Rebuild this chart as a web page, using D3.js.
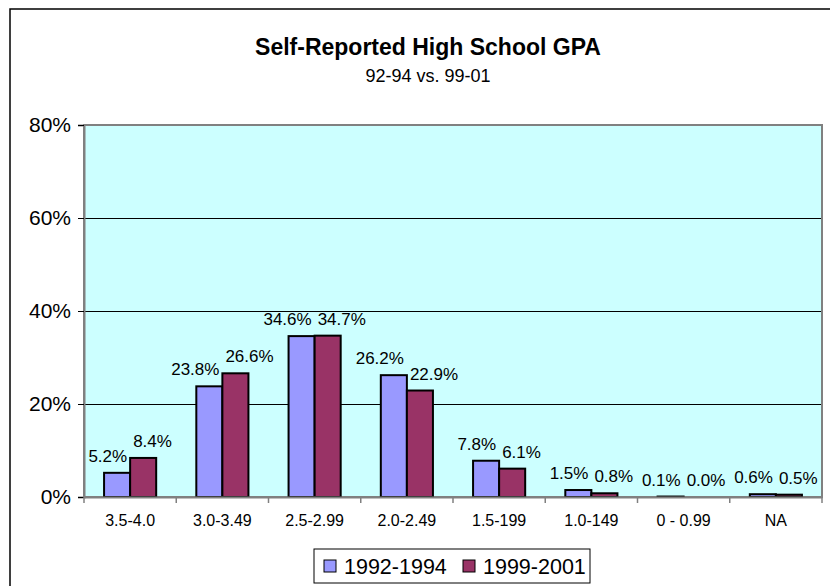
<!DOCTYPE html>
<html>
<head>
<meta charset="utf-8">
<script src="https://cdn.jsdelivr.net/npm/d3@7"></script>
<style>
  body { margin: 0; background: #fff; }
  svg { display: block; font-family: Arial, "Liberation Sans", sans-serif; }
</style>
</head>
<body>
<svg id="chart" width="830" height="586"></svg>
<script>
const categories = ["3.5-4.0", "3.0-3.49", "2.5-2.99", "2.0-2.49", "1.5-199", "1.0-149", "0 - 0.99", "NA"];
const seriesNames = ["1992-1994", "1999-2001"];
const values1992 = [5.2, 23.8, 34.6, 26.2, 7.8, 1.5, 0.1, 0.6];
const values1999 = [8.4, 26.6, 34.7, 22.9, 6.1, 0.8, 0.0, 0.5];
const yTicks = [0, 20, 40, 60, 80];
const colors = ["#9999FF", "#993366"];

const svg = d3.select("#chart");
const W = 830, H = 586;
const plot = { left: 84, right: 822, top: 125, bottom: 497 };

// outer chart border (extends past right/bottom edges)
svg.append("rect").attr("x", 10).attr("y", 9).attr("width", W + 20).attr("height", H + 20)
  .attr("fill", "#fff").attr("stroke", "#000").attr("stroke-width", 1.5);

// titles
const cx = 428;
svg.append("text").attr("x", cx).attr("y", 55).attr("text-anchor", "middle")
  .attr("font-size", 23).attr("font-weight", "bold").text("Self-Reported High School GPA");
svg.append("text").attr("x", cx).attr("y", 82).attr("text-anchor", "middle")
  .attr("font-size", 18).text("92-94 vs. 99-01");

const x = d3.scaleBand().domain(categories).range([plot.left, plot.right]);
const xs = d3.scaleBand().domain(seriesNames).range([0, x.bandwidth()]).paddingInner(0).paddingOuter(0.77);
const y = d3.scaleLinear().domain([0, 80]).range([plot.bottom, plot.top]);

// plot background
svg.append("rect").attr("x", plot.left).attr("y", plot.top)
  .attr("width", plot.right - plot.left).attr("height", plot.bottom - plot.top)
  .attr("fill", "#CCFFFF");

// gridlines
svg.append("g").selectAll("line").data(yTicks.filter(t => t > 0 && t < 80)).join("line")
  .attr("x1", plot.left).attr("x2", plot.right)
  .attr("y1", d => Math.round(y(d)) + 0.5).attr("y2", d => Math.round(y(d)) + 0.5)
  .attr("stroke", "#000").attr("stroke-width", 1);

// plot border
svg.append("rect").attr("x", plot.left).attr("y", plot.top)
  .attr("width", plot.right - plot.left).attr("height", plot.bottom - plot.top)
  .attr("fill", "none").attr("stroke", "#808080").attr("stroke-width", 2);

// bars
const data = categories.map((c, i) => ({ c, vals: [values1992[i], values1999[i]] }));
const groups = svg.append("g").selectAll("g").data(data).join("g")
  .attr("transform", d => `translate(${x(d.c)},0)`);
groups.selectAll("rect").data(d => d.vals.map((v, k) => ({ v, k }))).join("rect")
  .attr("x", d => xs(seriesNames[d.k]))
  .attr("width", xs.bandwidth())
  .attr("y", d => y(d.v))
  .attr("height", d => Math.max(0, y(0) - y(d.v)))
  .attr("fill", d => colors[d.k])
  .attr("stroke", "#000").attr("stroke-width", 2);

// value labels
const fs = 17;
groups.each(function (d) {
  const g = d3.select(this);
  const mid = x.bandwidth() / 2;
  const yb = y(d.vals[0]) - 11;
  const yr = y(d.vals[1]) - 11;
  g.append("text").attr("x", mid - 3).attr("y", yb).attr("text-anchor", "end")
    .attr("font-size", fs).text(d.vals[0].toFixed(1) + "%");
  const separated = (yb - yr) > fs;
  g.append("text")
    .attr("x", separated ? xs(seriesNames[1]) + xs.bandwidth() / 2 : mid + 3)
    .attr("y", yr)
    .attr("text-anchor", separated ? "middle" : "start")
    .attr("font-size", fs).text(d.vals[1].toFixed(1) + "%");
});

// y axis
const yAxis = svg.append("g").attr("transform", `translate(${plot.left},0)`)
  .call(d3.axisLeft(y).tickValues(yTicks).tickFormat(d => d + "%").tickSize(6).tickPadding(7));
yAxis.select(".domain").attr("stroke", "#808080").attr("stroke-width", 2);
yAxis.selectAll(".tick line").attr("stroke", "#000");
yAxis.selectAll("text").attr("font-size", 21).attr("font-family", "Arial, 'Liberation Sans', sans-serif").attr("fill", "#000");

// x axis
const xAxis = svg.append("g").attr("transform", `translate(0,${plot.bottom})`)
  .call(d3.axisBottom(x).tickSize(0).tickPadding(18));
xAxis.select(".domain").attr("stroke", "#808080").attr("stroke-width", 2);
xAxis.selectAll("text").attr("font-size", 16).attr("font-family", "Arial, 'Liberation Sans', sans-serif").attr("fill", "#000");
const bounds = categories.map(c => x(c)).concat([plot.right]);
svg.append("g").selectAll("line").data(bounds).join("line")
  .attr("x1", d => d).attr("x2", d => d)
  .attr("y1", plot.bottom).attr("y2", plot.bottom + 6)
  .attr("stroke", "#808080").attr("stroke-width", 1.5);

// legend
const lg = svg.append("g").attr("transform", "translate(314,549)");
lg.append("rect").attr("width", 276).attr("height", 34).attr("fill", "#fff")
  .attr("stroke", "#000").attr("stroke-width", 1);
const items = lg.selectAll("g").data(seriesNames).join("g")
  .attr("transform", (d, i) => `translate(${10 + i * 139},0)`);
items.append("rect").attr("y", 11).attr("width", 12).attr("height", 12)
  .attr("fill", (d, i) => colors[i]).attr("stroke", "#000").attr("stroke-width", 1);
items.append("text").attr("x", 20).attr("y", 25).attr("font-size", 21.5).text(d => d);
</script>
</body>
</html>
